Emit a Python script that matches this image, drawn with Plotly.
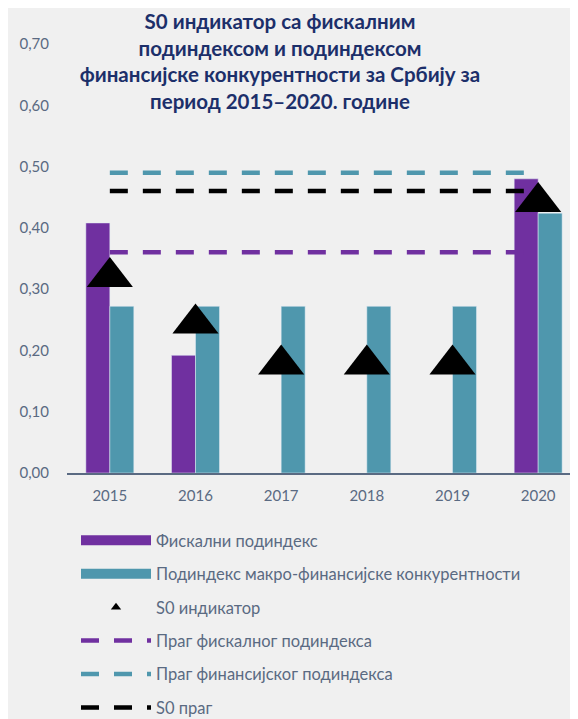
import plotly.graph_objects as go

years = ["2015", "2016", "2017", "2018", "2019", "2020"]
fiscal_subindex = [0.408, 0.192, None, None, None, 0.480]
financial_subindex = [0.272, 0.272, 0.272, 0.272, 0.272, 0.424]
s0_indicator = [0.320, 0.244, 0.177, 0.177, 0.177, 0.442]
fiscal_threshold = 0.36
financial_threshold = 0.49
s0_threshold = 0.46
y_ticks = [0.0, 0.1, 0.2, 0.3, 0.4, 0.5, 0.6, 0.7]

names = [
    "Фискални подиндекс",
    "Подиндекс макро-финансијске конкурентности",
    "S0 индикатор",
    "Праг фискалног подиндекса",
    "Праг финансијског подиндекса",
    "S0 праг",
]
title_text = ("<b>S0 индикатор са фискалним<br>подиндексом и подиндексом<br>"
              "финансијске конкурентности за Србију за<br>период 2015–2020. године</b>")

PURPLE = "#7030a0"
TEAL = "#4f97ad"
BLACK = "#000000"
NAVY = "#1c2f6a"
GREY = "#5a6a82"
BG = "#f0f0f0"
FONT = "Lato, 'Open Sans', sans-serif"
DASH = "18px,15px"

W, H = 578, 719
L, R, T, B = 59, 5, 36, 254
PH = H - T - B

fig = go.Figure()

# bars first (drawn beneath the lines and markers)
fig.add_trace(go.Bar(x=years, y=fiscal_subindex, name=names[0], marker_color=PURPLE,
                     showlegend=False, legendgroup="g0"))
fig.add_trace(go.Bar(x=years, y=financial_subindex, name=names[1], marker_color=TEAL,
                     showlegend=False, legendgroup="g1"))

# legend entries for the bars (wide rectangle symbols) and the indicator
for i, (nm, col) in enumerate([(names[0], PURPLE), (names[1], TEAL)]):
    fig.add_trace(go.Scatter(x=[None], y=[None], mode="lines", name=nm,
                             line=dict(color=col, width=11), legendgroup=f"g{i}",
                             hoverinfo="skip"))
fig.add_trace(go.Scatter(x=[None], y=[None], mode="markers", name=names[2],
                         marker=dict(symbol="triangle-up", size=9, color=BLACK),
                         legendgroup="g2", hoverinfo="skip"))

# threshold lines
for i, (val, col) in enumerate([(fiscal_threshold, PURPLE),
                                 (financial_threshold, TEAL),
                                 (s0_threshold, BLACK)]):
    fig.add_trace(go.Scatter(x=years, y=[val] * len(years), mode="lines",
                             name=names[3 + i], legendgroup=f"g{3+i}",
                             line=dict(color=col, width=4.5, dash=DASH)))

# S0 indicator markers on top
fig.add_trace(go.Scatter(x=years, y=s0_indicator, mode="markers", name=names[2],
                         marker=dict(symbol="triangle-up", size=40, color=BLACK),
                         showlegend=False, legendgroup="g2"))

fig.update_layout(
    width=W, height=H,
    margin=dict(l=L, r=R, t=T, b=B, autoexpand=False),
    paper_bgcolor=BG, plot_bgcolor=BG,
    separators=", ",
    barmode="group", bargap=0.44, bargroupgap=0,
    font=dict(family=FONT, color=GREY, size=15),
    title=dict(text=title_text, x=272 / W, xanchor="center", xref="container",
               y=1 - 21 / H, yanchor="middle", yref="container",
               font=dict(family=FONT, size=20.5, color=NAVY)),
    xaxis=dict(type="category", range=[-0.5, len(years) - 0.5], showline=True,
               linecolor=GREY, linewidth=1.5,
               showgrid=False, ticks="", tickfont=dict(size=15, color=GREY),
               ticklabelstandoff=8, automargin=False),
    yaxis=dict(range=[0, 0.7], tickvals=y_ticks, tickformat=".2f", showgrid=False,
               zeroline=False, showline=False, ticks="", automargin=False,
               tickfont=dict(size=15, color=GREY), ticklabelstandoff=17),
    showlegend=True,
    legend=dict(xref="paper", yref="paper", x=(68 - L) / (W - L - R),
                y=-(515 - (H - B)) / PH,
                xanchor="left", yanchor="top", traceorder="grouped",
                tracegroupgap=9, itemwidth=70, bgcolor="rgba(0,0,0,0)",
                font=dict(size=16.5, color=GREY)),
)

fig.write_html("out.html")
